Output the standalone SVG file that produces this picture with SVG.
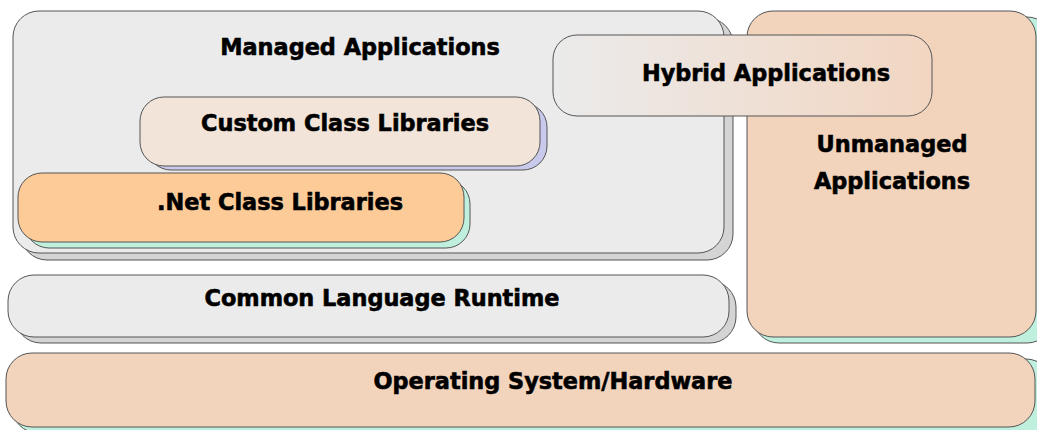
<svg xmlns="http://www.w3.org/2000/svg" width="1037" height="430" viewBox="0 0 1037 430">
<defs>
<linearGradient id="hyb" x1="0" y1="0" x2="1" y2="0">
<stop offset="0" stop-color="#ebebeb"/>
<stop offset="1" stop-color="#f2d6c2"/>
</linearGradient>
<style>
.box{stroke:#555;stroke-width:1}
.grey{fill:#ebebeb}
.gshadow{fill:#d4d4d4;stroke:#555;stroke-width:1}
.mshadow{fill:#bff0de;stroke:#555;stroke-width:1}
.bshadow{fill:#c9c9ec;stroke:#555;stroke-width:1}
.peach{fill:#f2d3bc}
.lbl{font-family:"DejaVu Sans","Liberation Sans",sans-serif;font-weight:bold;font-size:22.4px;fill:#000;stroke:#000;stroke-width:0.6;text-anchor:middle}
</style>
</defs>
<rect width="1037" height="430" fill="#fff"/>
<g id="os">
<rect class="mshadow" x="12" y="359" width="1040" height="74" rx="26"/>
<rect class="box peach" x="6" y="353" width="1029" height="74" rx="26"/>
<text class="lbl" x="553" y="389">Operating System/Hardware</text>
</g>
<g id="unmanaged">
<rect class="mshadow" x="753" y="17" width="300" height="326" rx="26"/>
<rect class="box peach" x="747" y="11" width="289" height="326" rx="26"/>
<text class="lbl" x="892" y="152">Unmanaged</text>
<text class="lbl" x="892" y="189">Applications</text>
</g>
<g id="clr">
<rect class="gshadow" x="15" y="281" width="721" height="62" rx="26"/>
<rect class="box grey" x="8" y="275" width="721" height="62" rx="26"/>
<text class="lbl" x="382" y="306">Common Language Runtime</text>
</g>
<g id="managed">
<rect class="gshadow" x="21" y="18" width="712" height="242" rx="26"/>
<rect class="box grey" x="13" y="11" width="711" height="242" rx="26"/>
<text class="lbl" x="360" y="55">Managed Applications</text>
</g>
<g id="custom">
<rect class="bshadow" x="147" y="103" width="400" height="67" rx="24"/>
<rect class="box" fill="#f2e4d8" x="140" y="97" width="400" height="69" rx="24"/>
<text class="lbl" x="345" y="131">Custom Class Libraries</text>
</g>
<g id="net">
<rect class="mshadow" x="25" y="180" width="445" height="68" rx="24"/>
<rect class="box" fill="#fdcb98" x="18" y="173" width="446" height="69" rx="24"/>
<text class="lbl" x="280" y="210">.Net Class Libraries</text>
</g>
<g id="hybrid">
<rect class="box" fill="url(#hyb)" x="553" y="35" width="379" height="81" rx="24"/>
<text class="lbl" x="766" y="81">Hybrid Applications</text>
</g>
<g id="connectors"/>
</svg>
